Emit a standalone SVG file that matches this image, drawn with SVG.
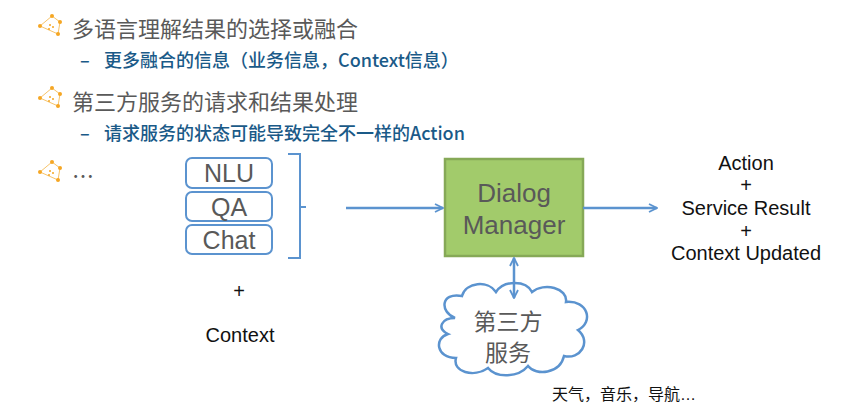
<svg xmlns="http://www.w3.org/2000/svg" width="866" height="413" viewBox="0 0 866 413">
<defs>
<marker id="ah" viewBox="0 0 10 10" refX="9" refY="5" markerWidth="10" markerHeight="10" markerUnits="userSpaceOnUse" orient="auto-start-reverse"><path d="M1,1 L9,5 L1,9" fill="none" stroke="#5B93CF" stroke-width="1.8"/></marker>
<g id="ic"><path d="M-10,-2 L2,-12 L10,-6 L8,6 Z" fill="none" stroke="#F7C46A" stroke-width="1"/><circle cx="-10" cy="-2" r="2" fill="#F5A623"/><circle cx="2" cy="-12" r="2" fill="#F5A623"/><circle cx="10" cy="-6" r="2" fill="#F5A623"/><circle cx="8" cy="6" r="2" fill="#F5A623"/><circle cx="0" cy="-3" r="1" fill="#F5A623"/><circle cx="3" cy="-1" r="1" fill="#F5A623"/><circle cx="-1" cy="1" r="1" fill="#F5A623"/></g>
</defs>
<style>
.t{font-family:"Noto Sans CJK SC","Liberation Sans",sans-serif;font-size:22px;fill:#595959}
.s{font-family:"Noto Sans CJK SC","Liberation Sans",sans-serif;font-size:18px;fill:#1A5A88;font-weight:500}
.b{font-family:"Liberation Sans",sans-serif;font-size:25px;fill:#595959;text-anchor:middle}
.c{font-family:"Noto Sans CJK SC",sans-serif;font-size:23px;fill:#595959;text-anchor:middle}
.k{font-family:"Liberation Sans","Noto Sans CJK SC",sans-serif;font-size:20px;fill:#111;text-anchor:middle}
.box{fill:#fff;stroke:#5B93CF;stroke-width:2}
.ln{fill:none;stroke:#5B93CF;stroke-width:2.5}
</style>
<rect width="866" height="413" fill="#fff"/>
<g id="bullets">
<use href="#ic" x="50" y="28"/><text class="t" x="72" y="37">多语言理解结果的选择或融合</text>
<text class="s" x="80" y="67">–</text><text class="s" x="104" y="67">更多融合的信息（业务信息，Context信息）</text>
<use href="#ic" x="50" y="100"/><text class="t" x="72" y="110">第三方服务的请求和结果处理</text>
<text class="s" x="80" y="140">–</text><text class="s" x="104" y="140">请求服务的状态可能导致完全不一样的Action</text>
<use href="#ic" x="50" y="174"/><text class="t" x="72" y="184">…</text>
</g>
<g id="nlu"><rect class="box" x="186" y="158" width="86" height="30" rx="6"/><text class="b" x="229" y="182">NLU</text></g>
<g id="qa"><rect class="box" x="186" y="192" width="86" height="29" rx="6"/><text class="b" x="229" y="216">QA</text></g>
<g id="chat"><rect class="box" x="186" y="225" width="86" height="29" rx="6"/><text class="b" x="229" y="249">Chat</text></g>
<g id="dm"><rect x="445" y="159" width="138" height="97" fill="#A2CB6B" stroke="#86A957" stroke-width="2.5"/><text class="b" x="514" y="202" style="font-size:26px">Dialog</text><text class="b" x="514" y="234" style="font-size:26px">Manager</text></g>
<g id="cloud"><path d="M455,318 C440,312 440,292 462,296 C466,282 488,280 496,292 C504,280 526,280 532,292 C544,282 568,288 566,302 C588,300 594,322 578,330 C592,342 580,360 564,356 C560,374 536,376 528,366 C518,378 496,378 488,368 C474,378 452,372 456,358 C436,358 434,338 448,334 C436,328 442,318 455,318 Z" fill="#fff" stroke="#5B93CF" stroke-width="2.5"/><text class="c" x="508" y="330">第三方</text><text class="c" x="508" y="361">服务</text></g>
<g id="connectors">
<path class="ln" d="M288,154 L300,154 L300,258 L288,258 M300,207 L306,207" style="stroke-width:2"/>
<line class="ln" x1="346" y1="208" x2="443" y2="208" marker-end="url(#ah)"/>
<line class="ln" x1="583" y1="208" x2="657" y2="208" marker-end="url(#ah)"/>
<line class="ln" x1="514" y1="258" x2="514" y2="298" marker-start="url(#ah)" marker-end="url(#ah)"/>
</g>
<g id="labels">
<text class="k" x="746" y="170">Action</text><text class="k" x="746" y="192">+</text><text class="k" x="746" y="215">Service Result</text><text class="k" x="746" y="238">+</text><text class="k" x="746" y="260">Context Updated</text>
<text class="k" x="239" y="298">+</text><text class="k" x="240" y="342">Context</text>
<text class="k" x="552" y="400" style="font-size:16px;text-anchor:start">天气，音乐，导航…</text>
</g>
</svg>
